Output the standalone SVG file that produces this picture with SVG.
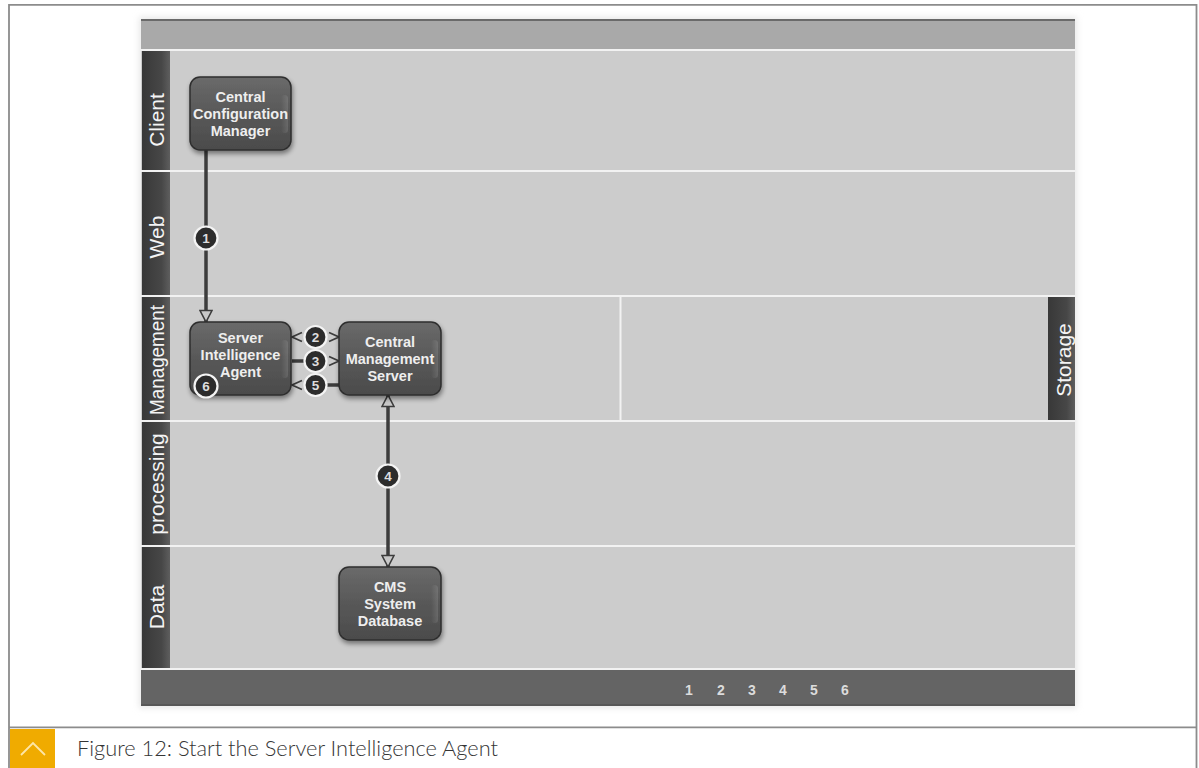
<svg xmlns="http://www.w3.org/2000/svg" width="1199" height="768" viewBox="0 0 1199 768">
  <defs>
    <linearGradient id="laneHead" x1="0" y1="0" x2="1" y2="0">
      <stop offset="0" stop-color="#383838"/>
      <stop offset="0.7" stop-color="#474747"/>
      <stop offset="1" stop-color="#5e5e5e"/>
    </linearGradient>
    <linearGradient id="nodeFill" x1="0" y1="0" x2="0" y2="1">
      <stop offset="0" stop-color="#6a6a6a"/>
      <stop offset="0.5" stop-color="#585858"/>
      <stop offset="1" stop-color="#4b4b4b"/>
    </linearGradient>
    <linearGradient id="gloss" x1="0" y1="0" x2="1" y2="0">
      <stop offset="0" stop-color="#ffffff" stop-opacity="0"/>
      <stop offset="1" stop-color="#ffffff" stop-opacity="0.12"/>
    </linearGradient>
    <filter id="shadow" x="-20%" y="-20%" width="140%" height="150%">
      <feGaussianBlur in="SourceAlpha" stdDeviation="2.5"/>
      <feOffset dx="1" dy="3"/>
      <feComponentTransfer><feFuncA type="linear" slope="0.45"/></feComponentTransfer>
      <feMerge><feMergeNode/><feMergeNode in="SourceGraphic"/></feMerge>
    </filter>
    <filter id="halo" x="-5%" y="-5%" width="110%" height="110%">
      <feGaussianBlur stdDeviation="3"/>
    </filter>
    <marker id="openHead" viewBox="0 0 14 14" refX="13" refY="7" markerWidth="14" markerHeight="14" markerUnits="userSpaceOnUse" orient="auto-start-reverse">
      <path d="M1.5,1 L13,7 L1.5,13 Z" fill="#c8c8c8" stroke="#3c3c3c" stroke-width="1.6"/>
    </marker>
    <marker id="chevHead" viewBox="0 0 12 12" refX="11" refY="6" markerWidth="12" markerHeight="12" markerUnits="userSpaceOnUse" orient="auto-start-reverse">
      <path d="M1,1.5 L11,6 L1,10.5" fill="none" stroke="#3c3c3c" stroke-width="1.8"/>
    </marker>
    <style>
      .sep { stroke: #f2f2f2; stroke-width: 2; }
      .laneLabel { font-family: "Liberation Sans", Arial, sans-serif; font-size: 21px; fill: #f4f4f4; text-anchor: middle; }
      .nodeBox { fill: url(#nodeFill); stroke: #2e2e2e; stroke-width: 1.5; filter: url(#shadow); }
      .nodeGloss { fill: url(#gloss); }
      .nodeText { font-family: "Liberation Sans", Arial, sans-serif; font-size: 14.5px; font-weight: bold; fill: #eeeeee; text-anchor: middle; }
      .wire { stroke: #3c3c3c; stroke-width: 3.5; fill: none; }
      .tip { stroke: none; fill: none; }
      .badge circle { fill: #2c2c2c; stroke: #f4f4f4; stroke-width: 2.2; }
      .badge text { font-family: "Liberation Sans", Arial, sans-serif; font-size: 13.5px; font-weight: bold; fill: #dddddd; text-anchor: middle; }
      .step { font-family: "Liberation Sans", Arial, sans-serif; font-size: 14px; font-weight: bold; fill: #dcdcdc; text-anchor: middle; }
      .caption { font-family: Lato, "Noto Sans", sans-serif; font-size: 21px; font-weight: 300; fill: #353535; }
    </style>
  </defs>

  <!-- page background and figure frame -->
  <rect x="0" y="0" width="1199" height="768" fill="#ffffff"/>
  <path d="M9,768 V4.8 H1196.5 V768" fill="none" stroke="#8c8c8c" stroke-width="1.8"/>
  <line x1="9" y1="727.3" x2="1196.5" y2="727.3" stroke="#8c8c8c" stroke-width="1.8"/>

  <!-- swimlane board -->
  <g id="board">
    <rect x="139" y="17" width="938" height="691" fill="#e8e8e8" filter="url(#halo)"/>
    <rect x="141" y="19" width="934" height="687" fill="#cccccc"/>
    <rect x="141" y="19" width="934" height="31" fill="#a9a9a9"/>
    <line x1="141" y1="20" x2="1075" y2="20" stroke="#6a6a6a" stroke-width="2"/>
    <rect x="141" y="670" width="934" height="36" fill="#646464"/>
    <line x1="141" y1="705" x2="1075" y2="705" stroke="#555" stroke-width="1.5"/>
    <rect x="142" y="51" width="28" height="618" fill="url(#laneHead)"/>
    <line class="sep" x1="141" y1="50" x2="1075" y2="50"/>
    <line class="sep" x1="141" y1="171" x2="1075" y2="171"/>
    <line class="sep" x1="141" y1="296" x2="1075" y2="296"/>
    <line class="sep" x1="141" y1="421" x2="1075" y2="421"/>
    <line class="sep" x1="141" y1="546" x2="1075" y2="546"/>
    <line class="sep" x1="141" y1="669" x2="1075" y2="669"/>
    <line class="sep" x1="620.5" y1="296" x2="620.5" y2="421"/>
    <rect x="1048" y="297" width="27" height="123" fill="url(#laneHead)"/>
    <text class="laneLabel" transform="translate(164,120) rotate(-90)">Client</text>
    <text class="laneLabel" transform="translate(164,237) rotate(-90)">Web</text>
    <text class="laneLabel" transform="translate(164,360) rotate(-90)" textLength="110" lengthAdjust="spacingAndGlyphs">Management</text>
    <text class="laneLabel" transform="translate(164,484) rotate(-90)">processing</text>
    <text class="laneLabel" transform="translate(164,607) rotate(-90)">Data</text>
    <text class="laneLabel" transform="translate(1071,360) rotate(-90)">Storage</text>
    <text class="step" x="689" y="695">1</text>
    <text class="step" x="721" y="695">2</text>
    <text class="step" x="752" y="695">3</text>
    <text class="step" x="783" y="695">4</text>
    <text class="step" x="814" y="695">5</text>
    <text class="step" x="845" y="695">6</text>
  </g>

  <!-- connectors -->
  <g id="connectors">
    <line class="wire" x1="206" y1="150" x2="206" y2="322" marker-end="url(#openHead)"/>
    <line class="wire" x1="388" y1="395" x2="388" y2="567" marker-start="url(#openHead)" marker-end="url(#openHead)"/>
    <line class="tip" x1="305" y1="337" x2="292" y2="337" marker-end="url(#chevHead)"/>
    <line class="tip" x1="326" y1="337" x2="339" y2="337" marker-end="url(#chevHead)"/>
    <line class="wire" x1="292" y1="361" x2="305" y2="361"/>
    <line class="tip" x1="326" y1="361" x2="339" y2="361" marker-end="url(#chevHead)"/>
    <line class="tip" x1="305" y1="385" x2="292" y2="385" marker-end="url(#chevHead)"/>
    <line class="wire" x1="326" y1="385" x2="339" y2="385"/>
  </g>

  <!-- nodes -->
  <g id="node-ccm">
    <rect class="nodeBox" x="190" y="77" width="101" height="73" rx="10"/>
    <rect class="nodeGloss" x="281" y="95" width="7" height="38" rx="3.5"/>
    <text class="nodeText" x="240.5" y="102">Central</text>
    <text class="nodeText" x="240.5" y="119">Configuration</text>
    <text class="nodeText" x="240.5" y="136">Manager</text>
  </g>
  <g id="node-sia">
    <rect class="nodeBox" x="190" y="322" width="101" height="73" rx="10"/>
    <rect class="nodeGloss" x="281" y="340" width="7" height="38" rx="3.5"/>
    <text class="nodeText" x="240.5" y="343">Server</text>
    <text class="nodeText" x="240.5" y="360">Intelligence</text>
    <text class="nodeText" x="240.5" y="377">Agent</text>
  </g>
  <g id="node-cms">
    <rect class="nodeBox" x="339" y="322" width="102" height="73" rx="10"/>
    <rect class="nodeGloss" x="431" y="340" width="7" height="38" rx="3.5"/>
    <text class="nodeText" x="390" y="347">Central</text>
    <text class="nodeText" x="390" y="364">Management</text>
    <text class="nodeText" x="390" y="381">Server</text>
  </g>
  <g id="node-cmsdb">
    <rect class="nodeBox" x="339" y="567" width="102" height="73" rx="10"/>
    <rect class="nodeGloss" x="431" y="585" width="7" height="38" rx="3.5"/>
    <text class="nodeText" x="390" y="592">CMS</text>
    <text class="nodeText" x="390" y="609">System</text>
    <text class="nodeText" x="390" y="626">Database</text>
  </g>

  <!-- step badges -->
  <g id="badges">
    <g class="badge"><circle cx="206" cy="238" r="11.5"/><text x="206" y="243">1</text></g>
    <g class="badge"><circle cx="315.5" cy="337" r="11"/><text x="315.5" y="342">2</text></g>
    <g class="badge"><circle cx="315.5" cy="361" r="11"/><text x="315.5" y="366">3</text></g>
    <g class="badge"><circle cx="388" cy="476" r="11.5"/><text x="388" y="481">4</text></g>
    <g class="badge"><circle cx="315.5" cy="385" r="11"/><text x="315.5" y="390">5</text></g>
    <g class="badge"><circle cx="206" cy="386" r="11.5"/><text x="206" y="391">6</text></g>
  </g>

  <!-- caption -->
  <g id="caption">
    <rect x="10" y="729" width="45" height="39" fill="#f0ab00"/>
    <path d="M21,755 L33,743 L45,755" fill="none" stroke="#fde6a8" stroke-width="1.8"/>
    <text class="caption" x="77" y="756" textLength="421" lengthAdjust="spacingAndGlyphs">Figure 12: Start the Server Intelligence Agent</text>
  </g>
</svg>
